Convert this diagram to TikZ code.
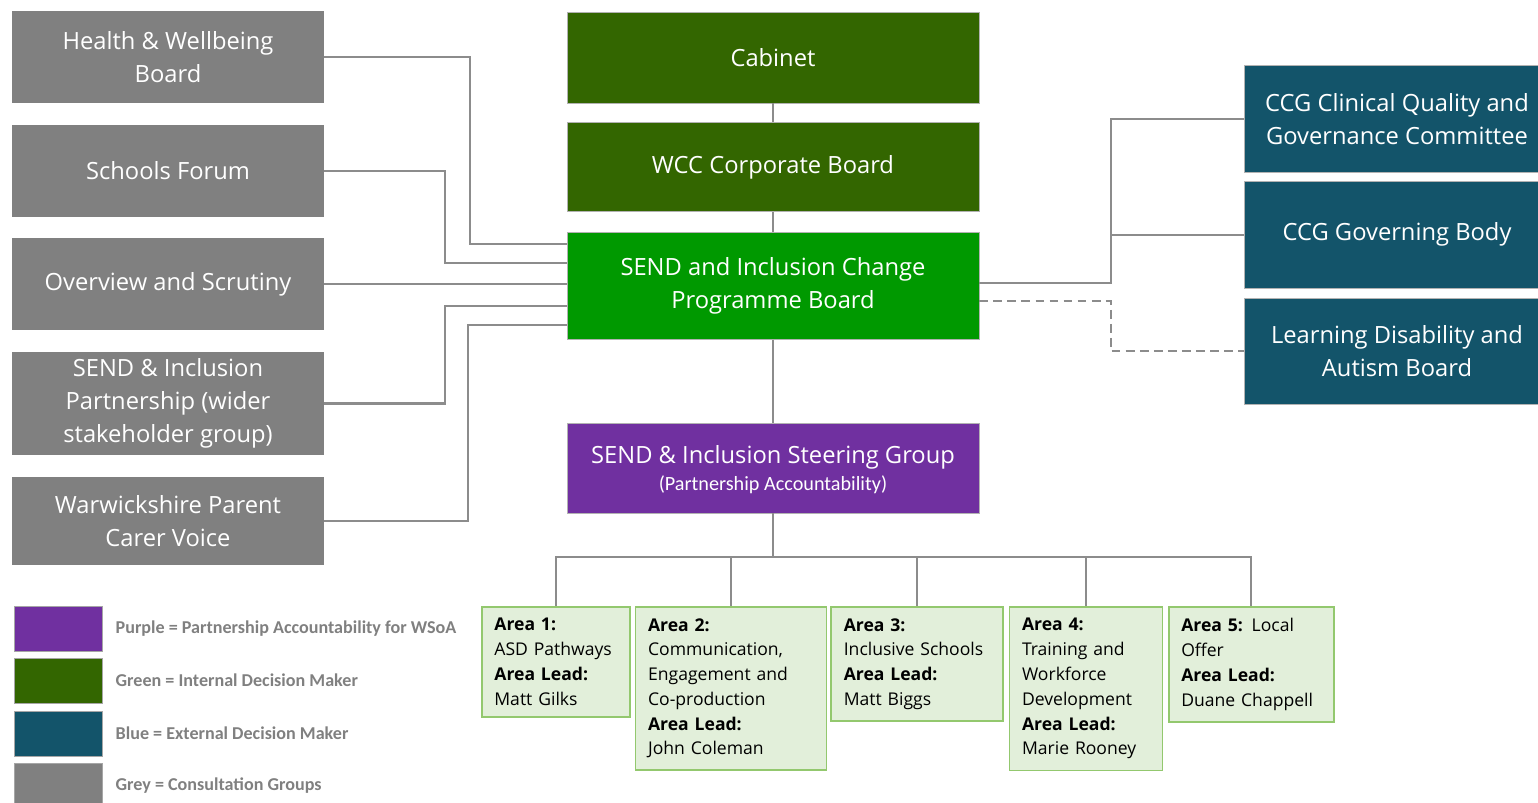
\documentclass[tikz,border=0pt]{standalone}
\usepackage{fontspec}
\setmainfont{Open Sans}
\newfontfamily\legfont{Carlito}
\usetikzlibrary{positioning}
\definecolor{cabgreen}{RGB}{51,102,0}
\definecolor{progreen}{RGB}{0,153,0}
\definecolor{steerpurple}{RGB}{112,48,160}
\definecolor{extblue}{RGB}{19,84,106}
\definecolor{consultgrey}{RGB}{128,128,128}
\definecolor{linegrey}{RGB}{140,140,140}
\definecolor{areafill}{RGB}{226,239,218}
\definecolor{areaedge}{RGB}{147,200,110}
\tikzset{board/.style={rectangle,draw=gray!60,fill=cabgreen,text=white,thin,minimum width=8.24cm,align=center,font=\fontsize{13.5}{18.8}\selectfont}}
\tikzset{consult/.style={rectangle,fill=consultgrey,text=white,minimum width=6.24cm,minimum height=1.84cm,align=center,font=\fontsize{13.5}{18.8}\selectfont}}
\tikzset{external/.style={rectangle,draw=gray!60,fill=extblue,text=white,thin,minimum width=6.12cm,minimum height=2.14cm,align=center,font=\fontsize{13.5}{18.8}\selectfont}}
\tikzset{area/.style={rectangle,draw=areaedge,fill=areafill,line width=1pt,inner xsep=0.25cm,inner ysep=0.23cm,align=left,font=\fontsize{10}{14.1}\selectfont}}
\tikzset{link/.style={draw=linegrey,line width=1.3pt}}
\tikzset{swatch/.style={rectangle,draw=gray!70,minimum width=1.76cm,minimum height=0.9cm}}
\tikzset{legtext/.style={text=consultgrey,font=\legfont\bfseries\fontsize{10.3}{12}\selectfont,inner sep=0pt}}

\begin{document}
\begin{tikzpicture}[x=0.02cm,y=-0.02cm]
\useasboundingbox (0,0) rectangle (1538,803);
\begin{scope}[node distance=0.42cm]
	\node (hwb) [consult] at (168,57) {Health \& Wellbeing\\Board};
	\node (sf) [consult, below=of hwb] {Schools Forum};
	\node (os) [consult, below=of sf] {Overview and Scrutiny};
	\node (sip) [consult, below=of os, minimum height=2.06cm] {SEND \& Inclusion\\Partnership (wider\\stakeholder group)};
	\node (wpcv) [consult, below=of sip, minimum height=1.76cm] {Warwickshire Parent\\Carer Voice};
\end{scope}
\node (cab) [board, minimum height=1.82cm] at (773,57.5) {Cabinet};
\node (wcc) [board, below=0.38cm of cab, minimum height=1.78cm] {WCC Corporate Board};
\node (cpb) [board, fill=progreen, below=0.4cm of wcc, minimum height=2.14cm] {SEND and Inclusion Change\\Programme Board};
\node (ssg) [board, fill=steerpurple, below=1.66cm of cpb, minimum height=1.8cm, text depth=-0.07cm] {SEND \& Inclusion Steering Group\\[-3.4pt]{\legfont\fontsize{11.5}{14}\selectfont (Partnership Accountability)}};
\node (ccq) [external] at (1397,119) {CCG Clinical Quality and\\Governance Committee};
\node (cgb) [external, below=0.16cm of ccq] {CCG Governing Body};
\node (ldab) [external, below=0.18cm of cgb] {Learning Disability and\\Autism Board};

\node (a1) [area, text width=2.46cm, anchor=north west] at (481,606) {\textbf{Area 1:}\\ASD Pathways\\\textbf{Area Lead:}\\Matt Gilks};
\node (a2) [area, text width=3.32cm, right=0.08cm of a1.north east, anchor=north west] {\textbf{Area 2:}\\Communication,\\Engagement and\\Co-production\\\textbf{Area Lead:}\\John Coleman};
\node (a3) [area, text width=2.94cm, right=0.06cm of a2.north east, anchor=north west] {\textbf{Area 3:}\\Inclusive Schools\\\textbf{Area Lead:}\\Matt Biggs};
\node (a4) [area, text width=2.56cm, right=0.09cm of a3.north east, anchor=north west] {\textbf{Area 4:}\\Training and\\Workforce\\Development\\\textbf{Area Lead:}\\Marie Rooney};
\node (a5) [area, text width=2.8cm, right=0.09cm of a4.north east, anchor=north west] {\textbf{Area 5:} Local\\Offer\\\textbf{Area Lead:}\\Duane Chappell};

\draw[link] (cab) -- (wcc);
\draw[link] (wcc) -- (cpb);
\draw[link] (cpb) -- (ssg);
\draw[link] (hwb.east) -| (470,244) -- (cpb.west |- 0,244);
\draw[link] (sf.east) -| (445,263) -- (cpb.west |- 0,263);
\draw[link] (os) -- (cpb.west |- os);
\draw[link] (sip.east) -| (445,306) -- (cpb.west |- 0,306);
\draw[link] (wpcv.east) -| (468,325) -- (cpb.west |- 0,325);
\draw[link] (cpb.east |- 0,283) -- (1111,283) coordinate (rbus) |- (ccq.west);
\draw[link] (rbus) |- (cgb.west);
\draw[link, dash pattern=on 5pt off 3pt] (cpb.east |- 0,301) -- (1111,301) |- (ldab.west);
\coordinate (bus) at (ssg.south |- 0,557);
\foreach \a in {a1,a2,a3,a4,a5} \draw[link] (ssg.south) -- (bus) -| (\a.north);

\node (lgp) [swatch, fill=steerpurple] at (58,629) {};
\node (lgptext) [legtext, right=0.26cm of lgp] {Purple = Partnership Accountability for WSoA};
\node (lgg) [swatch, fill=cabgreen] at (58,680.5) {};
\node (lggtext) [legtext, right=0.26cm of lgg] {Green = Internal Decision Maker};
\node (lgb) [swatch, fill=extblue] at (58,733.5) {};
\node (lgbtext) [legtext, right=0.26cm of lgb] {Blue = External Decision Maker};
\node (lgc) [swatch, fill=consultgrey] at (58,785.5) {};
\node (lgctext) [legtext, right=0.26cm of lgc] {Grey = Consultation Groups};
\end{tikzpicture}
\end{document}
